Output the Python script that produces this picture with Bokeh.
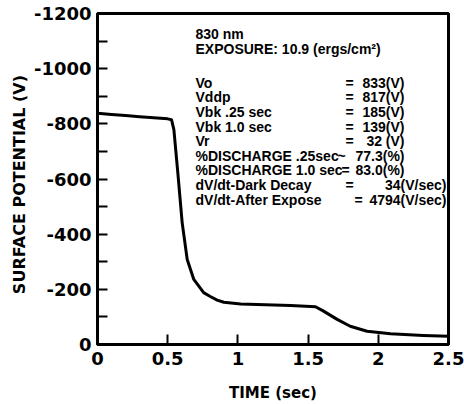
from bokeh.plotting import figure
from bokeh.models import Range1d, FixedTicker, ColumnDataSource
from bokeh.core.properties import value
from bokeh.embed import file_html
from bokeh.resources import INLINE

# ---- data ----
time_sec = [0.0, 0.1, 0.2, 0.3, 0.4, 0.5, 0.527, 0.544, 0.572, 0.603, 0.639, 0.686,
            0.756, 0.80, 0.852, 0.9, 1.02, 1.137, 1.375, 1.553, 1.61, 1.707, 1.80,
            1.92, 2.087, 2.32, 2.5]
potential_v = [-838, -834, -830, -826, -822, -818, -815, -779, -623, -442, -308, -236,
               -188, -175, -161, -153, -147, -145, -141, -137, -121, -91, -66,
               -48, -39, -33, -30]

x_ticks = [0, 0.5, 1, 1.5, 2, 2.5]
x_tick_labels = ["0", "0.5", "1", "1.5", "2", "2.5"]
y_ticks = [0, -100, -200, -300, -400, -500, -600, -700, -800, -900, -1000, -1100, -1200]
y_tick_labels = ["0", "", "-200", "", "-400", "", "-600", "", "-800", "", "-1000", "", "-1200"]

header_lines = ["830 nm", "EXPOSURE: 10.9 (ergs/cm\u00b2)"]
param_names = ["Vo", "Vddp", "Vbk .25 sec", "Vbk 1.0 sec", "Vr",
               "%DISCHARGE .25sec", "%DISCHARGE 1.0 sec",
               "dV/dt-Dark Decay", "dV/dt-After Expose"]
param_seps = ["=", "=", "=", "=", "=", "~", "=", "=", "="]
param_values = ["833(V)", "817(V)", "185(V)", "139(V)", "32 (V)",
                "77.3(%)", "83.0(%)", "34(V/sec)", "4794(V/sec)"]

W, H = 464, 404
FL, FR, FT, FB = 97, 448, 13, 345  # frame edges in pixels
XMIN, XMAX, YTOP, YBOT = 0, 2.5, -1200, 0

def px2x(px):
    return XMIN + (px - FL) / (FR - FL) * (XMAX - XMIN)

def py2y(py):
    return YBOT + (FB - py) / (FB - FT) * (YTOP - YBOT)

p = figure(width=W, height=H, output_backend="svg", toolbar_location=None,
           x_range=Range1d(XMIN, XMAX), y_range=Range1d(YBOT, YTOP),
           min_border_left=FL, min_border_right=W - FR,
           min_border_top=FT, min_border_bottom=H - FB)
p.grid.visible = False
p.background_fill_color = "white"
p.border_fill_color = "white"
p.outline_line_color = "black"
p.outline_line_width = 3

font = "DejaVu Sans"
for ax in (p.xaxis[0], p.yaxis[0]):
    ax.axis_line_width = 3
    ax.axis_line_color = "black"
    ax.major_tick_in = 10
    ax.major_tick_out = 0
    ax.major_tick_line_width = 2
    ax.minor_tick_in = 0
    ax.minor_tick_out = 0
    ax.major_label_text_font = font
    ax.major_label_text_font_style = "bold"
    ax.major_label_text_font_size = "18px"
    ax.major_label_text_color = "black"
    ax.axis_label_text_font = font
    ax.axis_label_text_font_style = "bold"
    ax.axis_label_text_color = "black"

p.xaxis.ticker = FixedTicker(ticks=x_ticks)
p.xaxis.major_label_overrides = dict(zip(x_ticks, x_tick_labels))
p.yaxis.ticker = FixedTicker(ticks=y_ticks)
p.yaxis.major_label_overrides = dict(zip(y_ticks, y_tick_labels))
p.xaxis.major_label_standoff = 7
p.yaxis.major_label_standoff = 6
p.xaxis.axis_label = "TIME (sec)"
p.xaxis.axis_label_text_font_size = "15px"
p.xaxis.axis_label_standoff = 16
p.yaxis.axis_label = "SURFACE POTENTIAL   (V)"
p.yaxis.axis_label_text_font_size = "16px"
p.yaxis.axis_label_standoff = 2

p.line(time_sec, potential_v, line_color="black", line_width=3,
       line_join="round", line_cap="round")

# ---- annotation block ----
txt_font = value("Liberation Sans")
fs = "14px"
col_label = px2x(195)
row0, step = 82.5, 14.65
hdr = ColumnDataSource(dict(x=[col_label] * 2, y=[py2y(34), py2y(49)], t=header_lines))
p.text("x", "y", "t", source=hdr, text_font=txt_font, text_font_style="bold",
       text_font_size=fs, text_baseline="middle", text_align="left", text_color="black")

n = len(param_names)
ys = [py2y(row0 + i * step) for i in range(n)]
names = ColumnDataSource(dict(x=[col_label] * n, y=ys, t=param_names))
p.text("x", "y", "t", source=names, text_font=txt_font, text_font_style="bold",
       text_font_size=fs, text_baseline="middle", text_align="left", text_color="black")

sep_px = [345, 345, 345, 345, 345, 337, 341, 345, 354]
seps = ColumnDataSource(dict(x=[px2x(s) for s in sep_px], y=ys, t=param_seps))
p.text("x", "y", "t", source=seps, text_font=txt_font, text_font_style="bold",
       text_font_size=fs, text_baseline="middle", text_align="left", text_color="black")

val_px = [404] * n
val_px[-2] = 446
val_px[-1] = 446
vals = ColumnDataSource(dict(x=[px2x(v) for v in val_px], y=ys, t=param_values))
p.text("x", "y", "t", source=vals, text_font=txt_font, text_font_style="bold",
       text_font_size=fs, text_baseline="middle", text_align="right", text_color="black")

open("out.html", "w").write(file_html(p, INLINE))
